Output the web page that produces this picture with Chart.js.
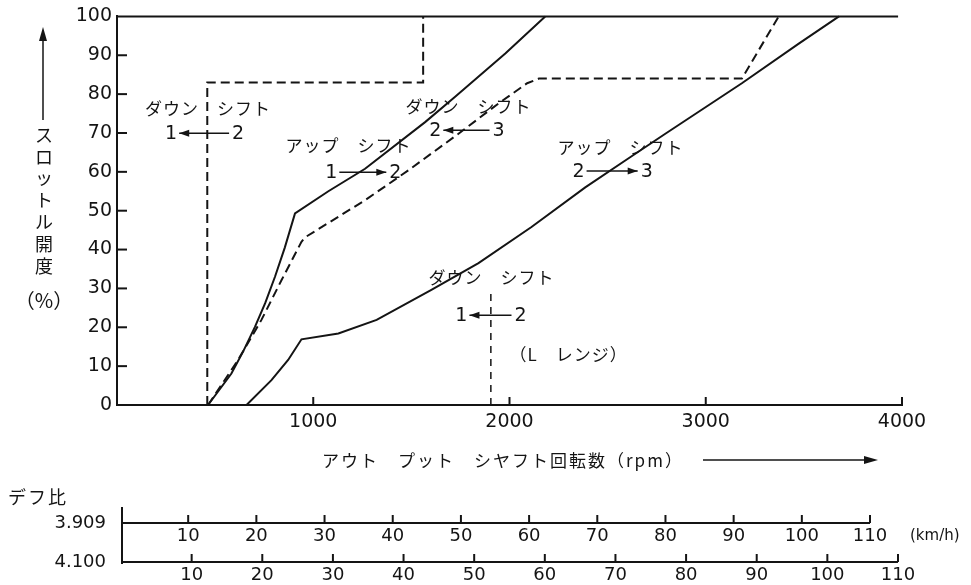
<!DOCTYPE html>
<html>
<head>
<meta charset="utf-8">
<script src="https://cdn.jsdelivr.net/npm/chart.js@4.4.1/dist/chart.umd.min.js"></script>
<style>
  html, body { margin: 0; padding: 0; background: #fff; }
  #shift-chart { display: block; }
</style>
</head>
<body>
<canvas id="shift-chart" width="971" height="585"></canvas>
<script>
// 変速線のデータ [出力軸回転数 rpm, スロットル開度 %]
var downShift12 = [[460, 0], [460, 83], [1560, 83], [1560, 100]];
var upShift12 = [[464, 0], [583, 8.1], [645, 14], [703, 20.1], [755, 26.2], [805, 33],
                 [855, 40.5], [907, 49.3], [1077, 55], [1264, 60.8], [1570, 72.8],
                 [1723, 79.3], [1980, 90.5], [2182, 100]];
var downShift23 = [[464, 0], [617, 11.6], [736, 21.9], [838, 32.1], [940, 42], [960, 43.2],
                   [1264, 52.7], [1485, 60.4], [1740, 69.8], [1944, 77.6], [2090, 82.8],
                   [2150, 84], [3184, 84], [3372, 100]];
var upShift23 = [[660, 0], [787, 6.4], [872, 11.6], [940, 16.9], [1128, 18.4], [1323, 21.9],
                 [1602, 29.6], [1842, 36.5], [2112, 45.8], [2386, 56], [2607, 63.5],
                 [2794, 69.8], [3184, 82.8], [3474, 93], [3679, 100]];
var downShift12L = [[1905, 0], [1905, 29]];

// 目盛り
var rpmTicks = [1000, 2000, 3000, 4000];
var throttleTicks = [10, 20, 30, 40, 50, 60, 70, 80, 90];
var kmhTicks = [10, 20, 30, 40, 50, 60, 70, 80, 90, 100, 110];
var diffRatios = ['3.909', '4.100'];

// 図中の注記 (データ座標)
var shiftTitles = ['ダウン　シフト', 'アップ　シフト', 'ダウン　シフト', 'アップ　シフト', 'ダウン　シフト'];
var shiftTitlePos = [[464, 76.3], [1179, 66.8], [1791, 76.9], [2566, 66.3], [1908, 32.9]];
var shiftArrows = [
    { left: '1', right: '2', dir: 'left', x: [276, 617], y: 69.9 },
    { left: '1', right: '2', dir: 'right', x: [1092, 1418], y: 59.9 },
    { left: '2', right: '3', dir: 'left', x: [1622, 1944], y: 70.7 },
    { left: '2', right: '3', dir: 'right', x: [2352, 2699], y: 60.2 },
    { left: '1', right: '2', dir: 'left', x: [1755, 2056], y: 23.1 }
];
var rangeNote = { text: '（L　レンジ）', x: 2301, y: 12.9 };

var ink = '#141414';
var jpFont = "'Noto Sans CJK JP', sans-serif";
var numFont = "'DejaVu Sans', sans-serif";

function toPoints(arr) {
    return arr.map(function(p) { return { x: p[0], y: p[1] }; });
}

function lineSet(arr, dash, width) {
    return {
        data: toPoints(arr),
        showLine: true,
        borderColor: ink,
        borderWidth: width || 2,
        borderDash: dash || [],
        pointRadius: 0,
        tension: 0,
        clip: false
    };
}

function seg(ctx, x1, y1, x2, y2) {
    ctx.beginPath();
    ctx.moveTo(x1, y1);
    ctx.lineTo(x2, y2);
    ctx.stroke();
}

function head(ctx, x, y, dir, len, half) {
    // dir: 'left', 'right', 'up'
    ctx.beginPath();
    if (dir === 'right') {
        ctx.moveTo(x, y); ctx.lineTo(x - len, y - half); ctx.lineTo(x - len, y + half);
    } else if (dir === 'left') {
        ctx.moveTo(x, y); ctx.lineTo(x + len, y - half); ctx.lineTo(x + len, y + half);
    } else {
        ctx.moveTo(x, y); ctx.lineTo(x - half, y + len); ctx.lineTo(x + half, y + len);
    }
    ctx.closePath();
    ctx.fill();
}

var annotationPlugin = {
    id: 'shiftAnnotations',
    afterDraw: function(chart) {
        var ctx = chart.ctx;
        var xs = chart.scales.x, ys = chart.scales.y;
        var k1 = chart.scales.kmh1, k2 = chart.scales.kmh2;
        ctx.save();
        ctx.strokeStyle = ink;
        ctx.fillStyle = ink;

        // 上端の線
        ctx.lineWidth = 2;
        seg(ctx, xs.left, ys.getPixelForValue(100), xs.getPixelForValue(3980), ys.getPixelForValue(100));

        // 内向きの目盛り
        throttleTicks.forEach(function(v) {
            var py = ys.getPixelForValue(v);
            seg(ctx, xs.left, py, xs.left + 10, py);
        });
        rpmTicks.forEach(function(v) {
            var px = xs.getPixelForValue(v);
            seg(ctx, px, ys.bottom, px, ys.bottom - 8);
        });

        // 変速の注記
        ctx.textAlign = 'center';
        ctx.textBaseline = 'middle';
        ctx.font = '17px ' + jpFont;
        ctx.letterSpacing = '1px';
        shiftTitles.forEach(function(t, i) {
            ctx.fillText(t, xs.getPixelForValue(shiftTitlePos[i][0]), ys.getPixelForValue(shiftTitlePos[i][1]));
        });
        ctx.fillText(rangeNote.text, xs.getPixelForValue(rangeNote.x), ys.getPixelForValue(rangeNote.y));
        ctx.letterSpacing = '0px';

        ctx.font = '19px ' + numFont;
        ctx.lineWidth = 1.5;
        shiftArrows.forEach(function(a) {
            var x1 = xs.getPixelForValue(a.x[0]), x2 = xs.getPixelForValue(a.x[1]);
            var py = ys.getPixelForValue(a.y);
            ctx.fillText(a.left, x1, py + 1);
            ctx.fillText(a.right, x2, py + 1);
            var s = x1 + 8, e = x2 - 9;
            seg(ctx, s, py, e, py);
            if (a.dir === 'left') head(ctx, s, py, 'left', 10, 3.5);
            else head(ctx, e, py, 'right', 10, 3.5);
        });

        // 縦軸タイトル
        ctx.lineWidth = 1.5;
        seg(ctx, 43, 120, 43, 38);
        head(ctx, 43, 27, 'up', 14, 4);
        ctx.font = '18px ' + jpFont;
        var vTitle = 'スロットル開度';
        for (var i = 0; i < vTitle.length; i++) {
            ctx.fillText(vTitle[i], 44, 135 + i * 21.8);
        }
        ctx.font = '20px ' + jpFont;
        ctx.fillText('（%）', 44, 300);

        // 横軸タイトル
        ctx.textAlign = 'left';
        ctx.font = '17px ' + jpFont;
        ctx.letterSpacing = '2px';
        ctx.fillText('アウト　プット　シヤフト回転数（rpm）', 322, 461);
        ctx.letterSpacing = '0px';
        ctx.lineWidth = 1.5;
        seg(ctx, 703, 460, 866, 460);
        head(ctx, 878, 460, 'right', 14, 4);

        // 車速スケール
        var yA = 523, yB = 562;
        ctx.lineWidth = 2;
        seg(ctx, 122, 507, 122, 564);
        seg(ctx, 122, yA, k1.getPixelForValue(110), yA);
        seg(ctx, 122, yB, k2.getPixelForValue(110), yB);
        ctx.textAlign = 'center';
        ctx.font = '18px ' + numFont;
        kmhTicks.forEach(function(v) {
            var p1 = k1.getPixelForValue(v), p2 = k2.getPixelForValue(v);
            seg(ctx, p1, yA, p1, yA - 8);
            seg(ctx, p2, yB, p2, yB - 8);
            ctx.fillText(String(v), p1, yA + 13);
            ctx.fillText(String(v), p2, yB + 13);
        });
        ctx.textAlign = 'left';
        ctx.font = '15px ' + numFont;
        ctx.fillText('(km/h)', 910, yA + 13);

        ctx.font = '18px ' + jpFont;
        ctx.letterSpacing = '2px';
        ctx.fillText('デフ比', 8, 497);
        ctx.letterSpacing = '0px';
        ctx.textAlign = 'right';
        ctx.font = '18px ' + numFont;
        ctx.fillText(diffRatios[0], 106, yA);
        ctx.fillText(diffRatios[1], 106, yB);

        ctx.restore();
    }
};

var context = document.getElementById('shift-chart').getContext('2d');
var shiftChart = new Chart(context, {
    type: 'scatter',
    data: {
        datasets: [
            lineSet(downShift12, [9, 5], 2),
            lineSet(upShift12, [], 2),
            lineSet(downShift23, [9, 5], 2),
            lineSet(upShift23, [], 2),
            lineSet(downShift12L, [7, 6], 1.5)
        ]
    },
    options: {
        responsive: false,
        animation: false,
        devicePixelRatio: 1,
        layout: { padding: { top: 16, right: 69, left: 0, bottom: 0 } },
        plugins: { legend: { display: false }, tooltip: { enabled: false } },
        scales: {
            x: {
                type: 'linear',
                position: 'bottom',
                min: 0,
                max: 4000,
                afterFit: function(scale) { scale.height = 180; },
                afterBuildTicks: function(scale) {
                    scale.ticks = rpmTicks.map(function(v) { return { value: v }; });
                },
                ticks: {
                    color: ink,
                    padding: 6,
                    maxRotation: 0,
                    font: { family: numFont, size: 19 },
                    callback: function(v) { return String(v); }
                },
                grid: { display: true, drawOnChartArea: false, drawTicks: false },
                border: { display: true, color: ink, width: 2 }
            },
            y: {
                type: 'linear',
                min: 0,
                max: 100,
                afterFit: function(scale) { scale.width = 117; },
                ticks: {
                    stepSize: 10,
                    color: ink,
                    padding: 5,
                    font: { family: numFont, size: 19 },
                    callback: function(v) { return String(v); }
                },
                grid: { display: true, drawOnChartArea: false, drawTicks: false },
                border: { display: true, color: ink, width: 2 }
            },
            kmh1: { type: 'linear', axis: 'x', position: 'bottom', display: false, min: -0.44, max: 114.69 },
            kmh2: { type: 'linear', axis: 'x', position: 'bottom', display: false, min: -0.57, max: 110.57 }
        }
    },
    plugins: [annotationPlugin]
});
</script>
</body>
</html>
